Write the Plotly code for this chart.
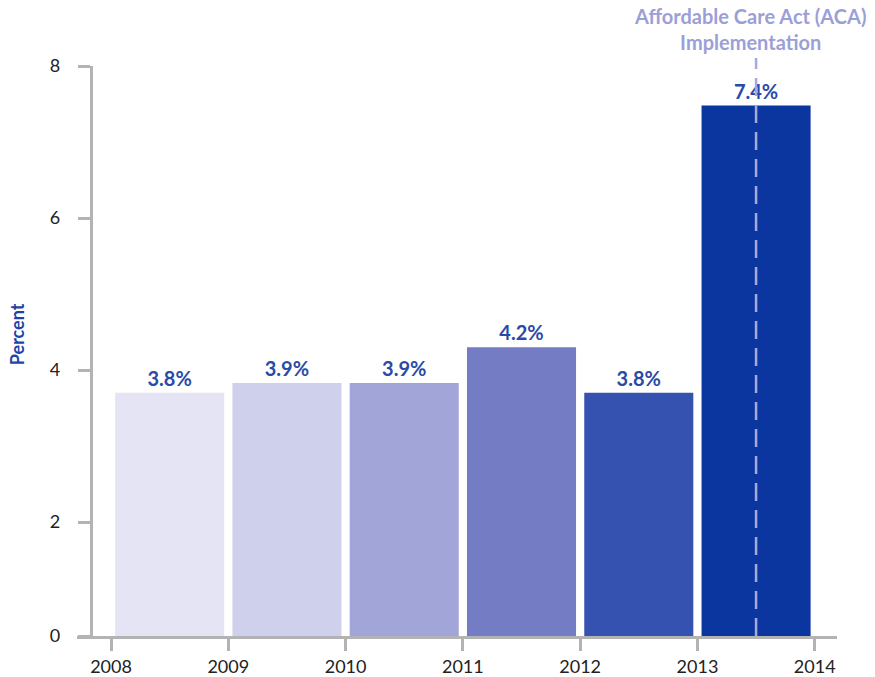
import plotly.graph_objects as go

years = [2008, 2009, 2010, 2011, 2012, 2013]
bar_values = [3.70, 3.83, 3.83, 4.30, 3.70, 7.48]
bar_labels = ["3.8%", "3.9%", "3.9%", "4.2%", "3.8%", "7.4%"]
bar_colors = ["#e4e4f4", "#cfd0eb", "#a2a5d7", "#747cc4", "#3652b0", "#0b36a0"]
x_ticks = [2008, 2009, 2010, 2011, 2012, 2013, 2014]
y_tickvals = [0.5, 2, 4, 6, 8]
y_ticktext = ["0", "2", "4", "6", "8"]
aca_year = 2013.5
aca_text = "<b>Affordable Care Act (ACA)<br>Implementation</b>"

FONT = "Lato"
x_range = [2007.71, 2014.19]

fig = go.Figure()
fig.add_trace(go.Bar(
    x=[y + 0.5 for y in years],
    y=bar_values,
    width=0.93,
    marker=dict(color=bar_colors, line=dict(width=0)),
    text=["<b>%s</b>" % t for t in bar_labels],
    textposition="outside",
    textfont=dict(family=FONT, size=20, color="#2a4aa8"),
    cliponaxis=False,
    hoverinfo="skip",
))

xpos = (aca_year - x_range[0]) / (x_range[1] - x_range[0])
fig.add_shape(type="line", xref="paper", yref="paper",
              x0=xpos, x1=xpos, y0=0, y1=1.014,
              line=dict(color="#a6a9dc", width=2.5, dash="18px,9px"),
              layer="above")

fig.add_annotation(xref="paper", yref="paper", x=xpos - 0.008, y=1.065,
                   text=aca_text, showarrow=False,
                   font=dict(family=FONT, size=20, color="#9b9fd8"),
                   xanchor="center", yanchor="middle", align="center")

fig.add_annotation(xref="paper", yref="paper", x=-0.078, y=0.529,
                   text="<b>Percent</b>", showarrow=False, textangle=-90,
                   font=dict(family=FONT, size=18, color="#1f44a8"),
                   xanchor="center", yanchor="middle")

fig.update_layout(
    width=875, height=677,
    margin=dict(l=77, r=38, t=66, b=41, autoexpand=False),
    plot_bgcolor="white", paper_bgcolor="white",
    showlegend=False,
    xaxis=dict(range=x_range, tickvals=x_ticks, showgrid=False, zeroline=False,
               automargin=False,
               showline=True, linecolor="#b3b3b3", linewidth=3,
               ticks="outside", ticklen=12, tickwidth=3, tickcolor="#b3b3b3",
               tickfont=dict(family=FONT, size=18, color="#222222")),
    yaxis=dict(range=[0.5, 8], tickvals=y_tickvals, ticktext=y_ticktext,
               anchor="free", position=0.018, automargin=False,
               showgrid=False, zeroline=False,
               showline=True, linecolor="#b3b3b3", linewidth=3,
               ticks="outside", ticklen=12, tickwidth=3, tickcolor="#b3b3b3",
               ticklabelstandoff=14,
               tickfont=dict(family=FONT, size=18, color="#222222")),
)

fig.write_html("out.html")
